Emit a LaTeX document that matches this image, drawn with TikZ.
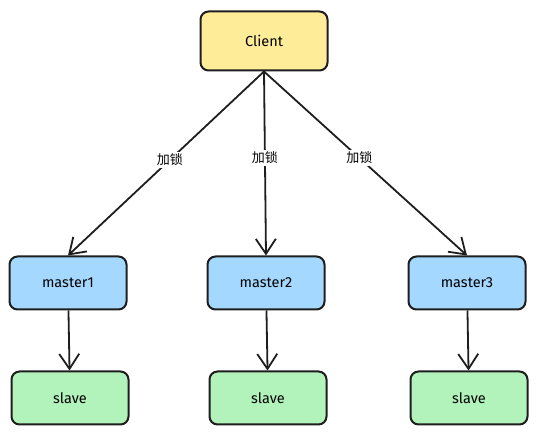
\documentclass[tikz,border=0pt]{standalone}
\usepackage{fontspec}
\setmainfont{Fira Sans}
\newfontfamily\cjk{Noto Sans CJK SC}
\usetikzlibrary{arrows.meta,positioning}

\definecolor{clientfill}{HTML}{FFEC99}
\definecolor{masterfill}{HTML}{A5D8FF}
\definecolor{slavefill}{HTML}{B2F2BB}
\definecolor{ink}{HTML}{1E1E1E}

\begin{document}
\begin{tikzpicture}[x=1pt,y=-1pt]
                    \tikzstyle{every node}+=[font=\fontsize{14.5}{16}\selectfont]
                    \tikzstyle{box}=[draw=ink,line width=2pt,rounded corners=8pt,minimum width=117pt,minimum height=53pt]
                    \tikzstyle{link}=[draw=ink,line width=1.8pt,-{Straight Barb[length=15pt,width=20pt,line width=1.8pt]}]
                    \tikzstyle{lock}=[fill=white,inner sep=2pt,font=\cjk\fontsize{13}{15}\selectfont]
                    \useasboundingbox (0,0) rectangle (536,435);
                    % top
                    \node [box,fill=clientfill,minimum width=127pt,minimum height=59pt] (client) at (264,41) {Client};
                    % masters
                    \node [box,fill=masterfill] (master1) at (68,283) {master1};
                    \node [box,fill=masterfill] (master2) at (266,283) {master2};
                    \node [box,fill=masterfill] (master3) at (467,283) {master3};
                    % slaves
                    \node [box,fill=slavefill] (slave1) at (70,398) {slave};
                    \node [box,fill=slavefill] (slave2) at (268,398) {slave};
                    \node [box,fill=slavefill] (slave3) at (469,398) {slave};
                    % lock arrows
                    \draw [link] (client.south) -- node [lock,pos=0.48] {加锁} (master1.north);
                    \draw [link] (client.south) -- node [lock,pos=0.47] {加锁} (master2.north);
                    \draw [link] (client.south) -- node [lock,pos=0.47] {加锁} (master3.north);
                    % replication
                    \draw [link] (master1) -- (slave1);
                    \draw [link] (master2) -- (slave2);
                    \draw [link] (master3) -- (slave3);
\end{tikzpicture}
\end{document}
